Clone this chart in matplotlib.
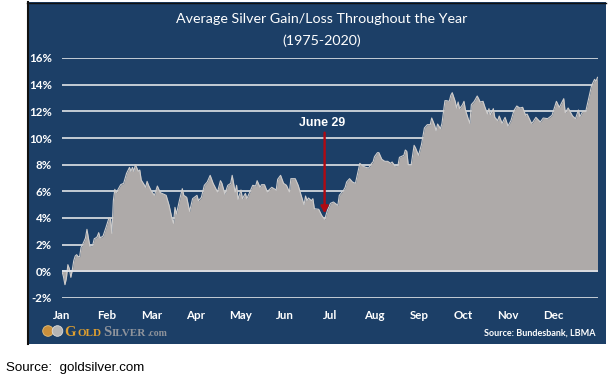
import matplotlib
matplotlib.use('Agg')
import matplotlib.pyplot as plt
from matplotlib.patches import Rectangle, Circle

# day of the year and average gain (%)
days = [0, 1, 2, 3, 4, 5, 6, 7, 8, 9, 10, 11, 12, 13, 14, 16, 17, 18, 19, 20, 21, 22, 23, 24, 25, 26, 28, 30,
        32, 33, 34, 35, 36, 37, 38, 40, 42, 44, 46, 47, 48, 49, 50, 52, 53, 54, 56, 57, 58, 59, 61, 63, 65, 67,
        71, 73, 75, 76, 77, 78, 80, 82, 83, 85, 87, 89, 92, 93, 95, 97, 99, 101, 103, 106, 108, 109, 111, 113,
        115, 116, 118, 119, 120, 122, 123, 125, 126, 128, 130, 132, 133, 135, 136, 138, 140, 141, 143, 146,
        147, 149, 151, 153, 155, 156, 159, 161, 163, 165, 166, 167, 168, 170, 171, 172, 175, 177, 179, 181,
        183, 185, 188, 189, 192, 193, 194, 196, 198, 200, 202, 203, 205, 207, 209, 211, 212, 213, 215, 216,
        218, 220, 222, 224, 225, 227, 229, 230, 233, 234, 235, 236, 238, 240, 241, 243, 245, 247, 249, 251,
        252, 254, 255, 256, 258, 259, 261, 262, 264, 265, 266, 268, 269, 270, 271, 273, 274, 275, 277, 278,
        279, 281, 283, 284, 285, 287, 288, 290, 291, 292, 294, 295, 297, 298, 300, 302, 304, 306, 308, 310,
        312, 314, 316, 317, 320, 321, 323, 326, 328, 331, 334, 336, 337, 339, 342, 343, 345, 348, 350, 352,
        353, 355, 357, 361, 363, 364, 365]
gain = [0, -0.4, -1.0, -0.5, 0.5, 0.2, -0.45, 0.1, 0.8, 1.15, 1.25, 1.1, 1.1, 1.8, 2.0, 2.5, 3.15, 2.5, 1.9, 1.9, 2.0, 2.45, 2.5, 2.6, 2.9, 2.5, 2.65, 3.3,
        4.0, 4.0, 2.85, 5.3, 6.15, 5.9, 6.1, 6.5, 6.6, 7.35, 7.8, 7.5, 7.8, 7.5, 8.0, 7.5, 7.6, 6.85, 6.5, 6.3, 6.75, 6.45, 6.0, 5.7, 6.4, 5.9,
        5.7, 4.95, 3.95, 3.6, 4.8, 4.3, 5.3, 6.2, 5.7, 5.55, 4.5, 5.45, 5.7, 5.3, 5.55, 6.45, 6.7, 7.2, 6.6, 5.95, 6.8, 6.6, 5.8, 6.45,
        6.6, 7.2, 5.95, 6.45, 5.4, 6.1, 5.45, 5.85, 5.45, 5.95, 6.45, 6.4, 6.8, 6.3, 6.5, 6.5, 5.95, 6.1, 6.3, 6.1,
        6.9, 7.2, 6.6, 6.45, 5.95, 6.95, 6.95, 6.45, 5.7, 5.0, 5.65, 5.3, 5.5, 5.3, 5.45, 4.7, 4.65, 4.2, 3.9, 4.6,
        5.1, 5.2, 4.95, 5.7, 6.1, 6.3, 6.7, 6.95, 6.7, 6.6, 7.6, 8.1, 7.9, 7.8, 7.75, 8.1, 8.2, 8.6, 8.9, 8.9,
        8.4, 8.25, 8.25, 8.1, 8.2, 7.9, 7.95, 8.55, 8.7, 9.1, 9.0, 8.0, 8.0, 9.45, 9.25, 8.7, 9.5, 10.75, 11.0, 11.0,
        11.5, 10.95, 10.55, 11.05, 10.7, 11.1, 12.8, 12.8, 12.75, 13.2, 13.4, 12.75, 12.25, 12.7, 12.2, 12.5, 12.75, 12.1, 11.4, 11.1,
        12.5, 12.75, 13.15, 12.95, 12.7, 12.75, 12.4, 11.8, 12.2, 11.75, 12.2, 11.55, 11.3, 11.65, 11.1, 11.55, 10.9, 11.3, 12.05, 12.4,
        12.25, 12.3, 11.7, 11.8, 11.1, 11.2, 11.55, 11.2, 11.5, 11.45, 11.7, 12.4, 12.75, 12.3, 12.95, 11.9, 12.25, 11.65, 11.45, 12.1,
        11.6, 12.0, 12.0, 13.95, 14.4, 14.25, 14.55]

months = ['Jan', 'Feb', 'Mar', 'Apr', 'May', 'Jun', 'Jul', 'Aug', 'Sep', 'Oct', 'Nov', 'Dec']
pct_ticks = [-2, 0, 2, 4, 6, 8, 10, 12, 14, 16]

W, H = 612, 379
blue = '#1c3f67'

fig = plt.figure(figsize=(W / 100, H / 100), dpi=100, facecolor='white')

# panel behind the chart, in pixels
bg = fig.add_axes([0, 0, 1, 1], zorder=0)
bg.set_xlim(0, W)
bg.set_ylim(H, 0)
bg.axis('off')
bg.add_patch(Rectangle((27, 2), 579, 342, fc=blue, ec='none'))
bg.plot([28, 28], [2, 344], color='#111111', lw=1.5)
bg.plot([27, 606], [2.5, 2.5], color='#111111', lw=1)

ax = fig.add_axes([62 / W, 1 - 298 / H, 535.5 / W, 240 / H], zorder=1)
ax.patch.set_alpha(0)
ax.set_xlim(0, 365)
ax.set_ylim(-2, 16)
for s in ax.spines.values():
    s.set_visible(False)
ax.yaxis.grid(True, color='#f2f2f2', lw=1.1, zorder=1)
ax.set_axisbelow(True)

ax.fill_between(days, 0, gain, color='#aeaaa9', lw=0, zorder=2)
ax.plot(days, gain, color='#cfcdcc', lw=0.8, zorder=3)
ax.axhline(0, color='#e6e8ee', lw=1.1, zorder=3)

ax.set_yticks(pct_ticks)
ax.set_yticklabels([f'{v}%' for v in pct_ticks])
ax.set_xticks([i * 365 / 12 for i in range(12)])
ax.set_xticklabels(months)
ax.tick_params(length=0, labelcolor='white', labelsize=8.3)
ax.tick_params(axis='y', pad=7.2)
ax.tick_params(axis='x', pad=8.4)
for t in ax.get_xticklabels() + ax.get_yticklabels():
    t.set_family('Lato')
    t.set_fontweight('bold')

# June 29 marker
ax.annotate('', xy=(179, 4.35), xytext=(179, 10.4), zorder=4,
            arrowprops=dict(arrowstyle='-|>,head_width=0.22,head_length=0.4', color='#b00a12', lw=1.7,
                            shrinkA=0, shrinkB=0))
ax.text(177.3, 11.1, 'June 29', color='white', family='Liberation Sans', fontweight='bold',
        fontsize=8.9, ha='center', va='center')

fig.text(322 / W, 1 - 19 / H, 'Average Silver Gain/Loss Throughout the Year', color='white', family='Lato',
         fontsize=10.3, ha='center', va='center')
fig.text(322 / W, 1 - 41 / H, '(1975-2020)', color='white', family='Lato',
         fontsize=10.3, ha='center', va='center')

fig.text(595 / W, 1 - 333 / H, 'Source: Bundesbank, LBMA', color='white', family='Lato', fontweight='bold',
         fontsize=6.5, ha='right', va='center')
fig.text(6 / W, 1 - 368 / H, 'Source:  goldsilver.com', color='black', family='Liberation Sans',
         fontsize=9.65, ha='left', va='center')

# logo coins and wordmark
bg.add_patch(Circle((48, 331), 5.3, fc='#c98f3c', ec='#e8c27a', lw=0.6, zorder=2))
bg.add_patch(Circle((57.5, 331), 5.3, fc='#b5b5b5', ec='#dddddd', lw=0.6, zorder=3))
logo = [(64, 'G', 10.5, '#e0a030'), (77.5, 'OLD', 8, '#e0a030'), (103, 'S', 10.5, '#8f949c'),
        (112, 'ILVER', 8, '#8f949c'), (148, '.com', 7, '#8f949c')]
for x, s, size, c in logo:
    bg.text(x, 336.5, s, color=c, family='Liberation Serif', fontsize=size, fontweight='bold', ha='left', va='baseline')

fig.savefig('out.png', dpi=100)
